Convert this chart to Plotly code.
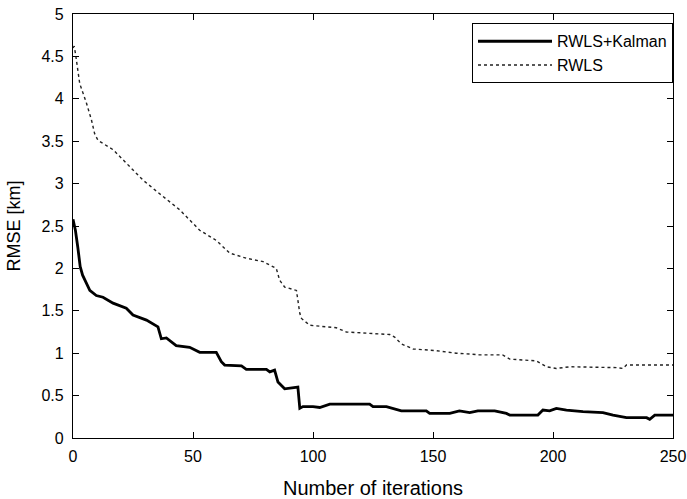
import plotly.graph_objects as go

# RWLS+Kalman (solid)
kalman_x = [0, 0.5, 1, 2, 3, 4, 5, 7, 9.7, 12.5, 16.7, 22.2, 25, 30.6, 35.4, 36.8, 38.9, 43, 48.6, 52.8,
            59.7, 61.8, 63.2, 70.2, 72.2, 80.6, 82, 84, 85.4, 88.2, 93.7, 94.5, 95.8, 100, 102.8, 107,
            123.6, 125, 130.6, 136.8, 147.2, 148.6, 157, 161, 165.3, 168.7, 175.7, 180.6, 182, 193.7,
            195.8, 198.6, 201.4, 205.6, 212.5, 220.8, 225, 230.6, 239, 240.3, 242.4, 250]
kalman_y = [2.58, 2.52, 2.45, 2.25, 2.02, 1.92, 1.86, 1.74, 1.68, 1.66, 1.59, 1.53, 1.45, 1.39, 1.31, 1.17,
            1.18, 1.09, 1.07, 1.01, 1.01, 0.90, 0.86, 0.85, 0.81, 0.81, 0.78, 0.80, 0.66, 0.58, 0.60,
            0.35, 0.37, 0.37, 0.36, 0.40, 0.40, 0.37, 0.37, 0.32, 0.32, 0.29, 0.29, 0.32, 0.30, 0.32,
            0.32, 0.29, 0.27, 0.27, 0.33, 0.32, 0.35, 0.33, 0.31, 0.30, 0.27, 0.24, 0.24, 0.22, 0.27, 0.27]

# RWLS (dashed)
rwls_x = [0, 0.5, 1.1, 2.8, 5.6, 7.7, 9, 10.4, 16.7, 22.2, 29.2, 36.1, 44.5, 52.8, 59.7, 65.3, 72.2,
          79.2, 83.3, 84.7, 86.1, 88.2, 93.1, 94.5, 95.2, 98.6, 109.7, 113.9, 132, 134, 136.8, 141.7,
          151.4, 159.7, 165.3, 169.4, 179, 182, 193, 195.2, 197.3, 201.4, 207, 226.4, 229.2, 230.6, 250]
rwls_y = [4.60, 4.62, 4.52, 4.18, 3.95, 3.75, 3.59, 3.51, 3.40, 3.24, 3.04, 2.88, 2.69, 2.45, 2.33,
          2.18, 2.12, 2.08, 2.02, 2.0, 1.86, 1.78, 1.74, 1.47, 1.41, 1.33, 1.30, 1.25, 1.22, 1.19,
          1.11, 1.05, 1.03, 1.00, 0.99, 0.98, 0.98, 0.93, 0.91, 0.87, 0.84, 0.82, 0.84, 0.83, 0.82,
          0.86, 0.86]

x_ticks = [0, 50, 100, 150, 200, 250]
y_ticks = [0, 0.5, 1, 1.5, 2, 2.5, 3, 3.5, 4, 4.5, 5]
y_tick_labels = ["0", "0.5", "1", "1.5", "2", "2.5", "3", "3.5", "4", "4.5", "5"]

FONT = "Arial, 'Liberation Sans', sans-serif"

fig = go.Figure()
fig.add_trace(go.Scatter(x=kalman_x, y=kalman_y, mode="lines", name="RWLS+Kalman",
                         line=dict(color="black", width=2.8)))
fig.add_trace(go.Scatter(x=rwls_x, y=rwls_y, mode="lines", name="RWLS",
                         line=dict(color="#222222", width=1.4, dash="3px,3px")))

axis_common = dict(showline=True, linecolor="black", linewidth=1.3, mirror="allticks",
                   ticks="inside", ticklen=6, tickcolor="black", tickwidth=1,
                   showgrid=False, zeroline=False, automargin=False,
                   tickfont=dict(family=FONT, size=16, color="black"))

fig.update_xaxes(range=[0, 250], tickvals=x_ticks,
                 title=dict(text="Number of iterations", font=dict(family=FONT, size=20, color="black"),
                            standoff=17),
                 ticklabelstandoff=4, **axis_common)
fig.update_yaxes(range=[0, 5], tickvals=y_ticks, ticktext=y_tick_labels,
                 title=dict(text="RMSE [km]", font=dict(family=FONT, size=18, color="black"),
                            standoff=16),
                 ticklabelstandoff=5, **axis_common)

fig.update_layout(
    width=687, height=499,
    margin=dict(l=73, r=14, t=14, b=61, autoexpand=False),
    paper_bgcolor="white", plot_bgcolor="white",
    showlegend=True,
    legend=dict(x=1.0, y=0.978, xanchor="right", yanchor="top",
                bordercolor="black", borderwidth=1, bgcolor="white",
                font=dict(family=FONT, size=16, color="black"),
                itemwidth=74, tracegroupgap=0),
)

fig.write_html("out.html", post_script="document.body.style.margin='0';",
               config={"displayModeBar": False})
